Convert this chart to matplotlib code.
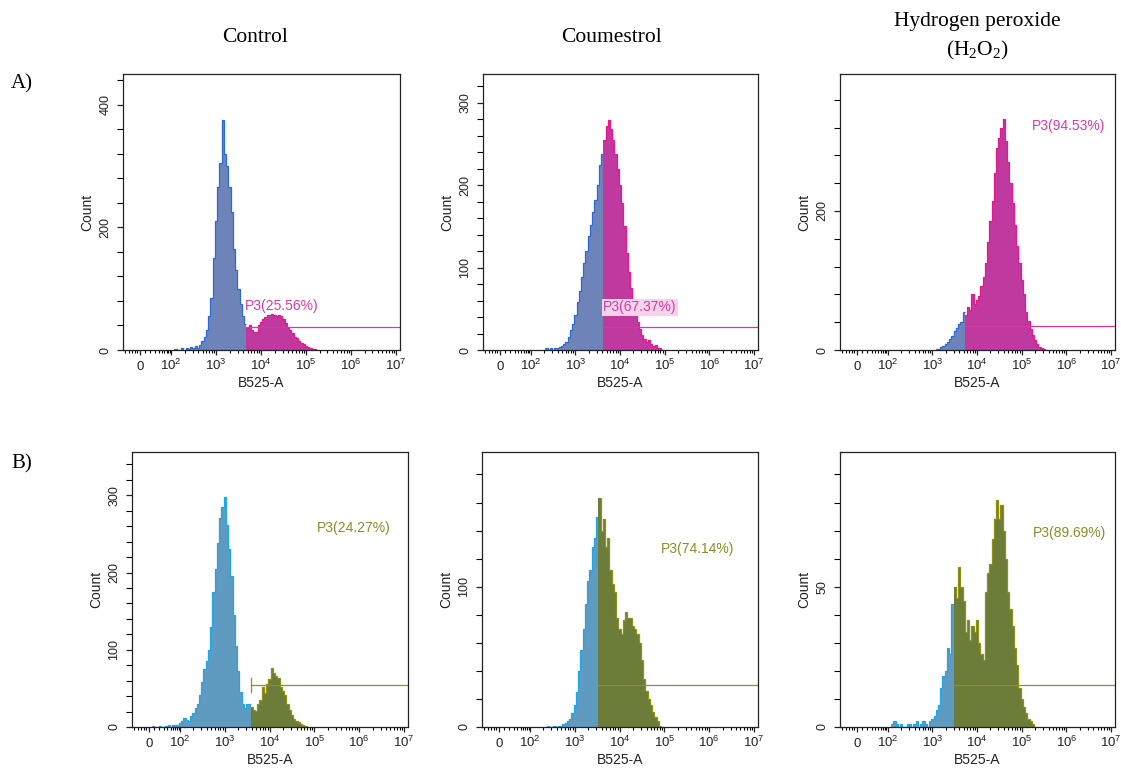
import numpy as np
import matplotlib
matplotlib.use("Agg")
import matplotlib.pyplot as plt
from matplotlib.ticker import FixedLocator

plt.rcParams['font.family'] = ['Liberation Sans', 'DejaVu Sans']
plt.rcParams['mathtext.default'] = 'regular'

# ---------------- data (x in log10 units of B525-A, bins of 0.05 decade) ----------------
BIN = 0.05

a_control_start = 2.10
a_control_counts = [2, 0, 0, 3, 0, 4, 2, 5, 3, 6, 4, 8, 14, 22, 32, 55, 85, 150, 210, 265,
                    305, 375, 320, 300, 265, 225, 165, 130, 100, 75, 55, 42, 36, 40, 33, 30,
                    29, 40, 45, 50, 54, 57, 57, 58, 57, 56, 57, 55, 50, 44, 38, 33, 28, 22,
                    19, 15, 12, 9, 6, 5, 3, 2, 1, 0]
a_control_gate = 3.64
a_control_level = 38
a_control_edge = 15

a_coum_start = 2.35
a_coum_counts = [2, 0, 2, 0, 3, 2, 4, 5, 7, 10, 16, 24, 32, 42, 58, 72, 88, 105, 120, 138,
                 152, 168, 182, 200, 225, 238, 255, 272, 279, 268, 255, 238, 220, 200, 178,
                 150, 118, 95, 75, 60, 45, 34, 26, 18, 13, 10, 12, 7, 5, 6, 3, 2, 0]
a_coum_gate = 3.61
a_coum_level = 28
a_coum_edge = 0

a_h2o2_start = 3.10
a_h2o2_counts = [1, 2, 4, 6, 9, 12, 16, 20, 28, 32, 38, 40, 55, 50, 62, 58, 80, 66, 72, 78,
                 92, 105, 125, 155, 185, 215, 255, 290, 305, 320, 332, 300, 270, 240, 212,
                 180, 150, 125, 100, 80, 55, 42, 30, 22, 14, 9, 5, 3, 1, 0]
a_h2o2_gate = 3.68
a_h2o2_level = 34
a_h2o2_edge = 0

b_control_start = 1.40
b_control_counts = [1, 0, 0, 1, 0, 0, 1, 2, 0, 2, 3, 2, 5, 8, 12, 9, 8, 14, 18, 24, 30, 42,
                    58, 75, 86, 100, 130, 175, 205, 238, 270, 285, 298, 262, 230, 195, 145,
                    105, 72, 45, 30, 25, 30, 30, 26, 22, 21, 30, 35, 52, 44, 56, 62, 76, 70,
                    66, 64, 52, 46, 42, 30, 22, 16, 11, 8, 6, 4, 2, 1, 0]
b_control_gate = 3.53
b_control_level = 54
b_control_edge = 52

b_coum_start = 2.40
b_coum_counts = [1, 0, 0, 1, 0, 1, 1, 2, 3, 4, 6, 10, 16, 25, 40, 55, 70, 88, 104, 112, 128,
                 135, 150, 163, 140, 148, 128, 135, 112, 102, 96, 78, 70, 66, 76, 82, 78, 78,
                 72, 70, 66, 60, 48, 34, 26, 20, 16, 11, 7, 4, 1, 0]
b_coum_gate = 3.49
b_coum_level = 30
b_coum_edge = 0

b_h2o2_start = 2.10
b_h2o2_counts = [1, 2, 1, 0, 1, 0, 0, 1, 1, 0, 1, 2, 0, 1, 2, 1, 0, 2, 3, 4, 6, 8, 14, 18,
                 20, 28, 26, 44, 50, 46, 57, 50, 45, 34, 38, 31, 36, 34, 38, 30, 26, 24, 48,
                 55, 58, 67, 74, 81, 74, 79, 70, 60, 48, 42, 36, 28, 22, 14, 10, 7, 5, 3, 2,
                 1, 0]
b_h2o2_gate = 3.45
b_h2o2_level = 15
b_h2o2_edge = 5

gate_labels = ["P3(25.56%)", "P3(67.37%)", "P3(94.53%)",
               "P3(24.27%)", "P3(74.14%)", "P3(89.69%)"]
label_pos = [(3.64, 72), (3.62, 52), (5.22, 322), (5.05, 257), (4.93, 127), (5.24, 69)]

col_titles = ["Control", "Coumestrol", "Hydrogen peroxide\n(H$_{2}$O$_{2}$)"]
row_titles = ["A)", "B)"]

x_tick_pos = [1.31, 2, 3, 4, 5, 6, 7]
x_tick_lab = ["0", "$10^{2}$", "$10^{3}$", "$10^{4}$", "$10^{5}$", "$10^{6}$", "$10^{7}$"]

ylims = [450, 335, 397, 356, 196, 98]
ymajor = [200, 100, 200, 100, 100, 50]
yminor = [40, 20, 40, 20, 20, 10]

# ---------------- style ----------------
XMIN, XMAX = 0.93, 7.09
A_UFILL, A_UEDGE = "#6e84b8", "#2a6ad4"
A_GFILL, A_GEDGE = "#c0399e", "#e8168a"
A_LINE, A_TEXT = "#d8379f", "#d13ca6"
B_UFILL, B_UEDGE = "#5f9ac0", "#1ea6e6"
B_GFILL, B_GEDGE = "#6b7d38", "#8f8f14"
B_LINE, B_TEXT = "#8c8c3c", "#8c8c24"
TXT = '#222222'

W, H = 1121, 772
fig = plt.figure(figsize=(W / 100, H / 100), dpi=100)

boxes = [(123, 74, 400, 350), (483, 74, 758, 350), (840, 74, 1115, 350),
         (132, 452, 408, 727), (482, 452, 758, 727), (840, 452, 1115, 727)]

panels = [
    (a_control_start, a_control_counts, a_control_gate, a_control_level, a_control_edge),
    (a_coum_start, a_coum_counts, a_coum_gate, a_coum_level, a_coum_edge),
    (a_h2o2_start, a_h2o2_counts, a_h2o2_gate, a_h2o2_level, a_h2o2_edge),
    (b_control_start, b_control_counts, b_control_gate, b_control_level, b_control_edge),
    (b_coum_start, b_coum_counts, b_coum_gate, b_coum_level, b_coum_edge),
    (b_h2o2_start, b_h2o2_counts, b_h2o2_gate, b_h2o2_level, b_h2o2_edge),
]

x_minor = [0.98, 1.06, 1.13, 1.19, 1.25, 1.42, 1.54, 1.64, 1.72, 1.79, 1.85, 1.90, 1.94, 1.97]
for d in range(2, 7):
    for k in range(2, 10):
        x_minor.append(d + np.log10(k))

for i, (box, pdata) in enumerate(zip(boxes, panels)):
    l, t, r, b = box
    ax = fig.add_axes([l / W, 1 - b / H, (r - l) / W, (b - t) / H])
    start, counts, gate, level, edge = pdata
    counts = np.asarray(counts, float)
    edges = start - BIN / 2 + BIN * np.arange(len(counts) + 1)
    k = int(np.searchsorted(edges, gate))
    if i < 3:
        uf, ue, gf, ge, gl, gt = A_UFILL, A_UEDGE, A_GFILL, A_GEDGE, A_LINE, A_TEXT
    else:
        uf, ue, gf, ge, gl, gt = B_UFILL, B_UEDGE, B_GFILL, B_GEDGE, B_LINE, B_TEXT
    ax.stairs(counts[:k], edges[:k + 1], fill=True, color=uf, lw=0)
    ax.stairs(counts[:k], edges[:k + 1], baseline=None, color=ue, lw=0.9)
    ax.stairs(counts[k:], edges[k:], fill=True, color=gf, lw=0)
    ax.stairs(counts[k:], edges[k:], baseline=None, color=ge, lw=0.9)
    if edge > 0:
        ax.bar([XMIN + 0.012], [edge], width=0.022, color=ue, linewidth=0)
    ax.plot([edges[k], XMAX], [level, level], color=gl, lw=0.9)
    if i == 3:
        ax.plot([edges[k], edges[k]], [level - 9, level + 9], color=gl, lw=0.9)
    lx, ly = label_pos[i]
    txt_kw = dict(color=gt, fontsize=10, ha='left', va='center')
    if i == 1:
        txt_kw['bbox'] = dict(facecolor='#f6d3ea', edgecolor='none', pad=1.0)
    ax.text(lx, ly, gate_labels[i], **txt_kw)

    ax.set_xlim(XMIN, XMAX)
    ax.set_ylim(0, ylims[i])
    ax.xaxis.set_major_locator(FixedLocator(x_tick_pos))
    ax.set_xticklabels(x_tick_lab, va='baseline')
    ax.xaxis.set_minor_locator(FixedLocator(x_minor))
    yt = np.arange(0, ylims[i], ymajor[i])
    ax.yaxis.set_major_locator(FixedLocator(yt))
    ax.set_yticklabels([str(int(v)) for v in yt], rotation=90, va='center')
    ax.yaxis.set_minor_locator(FixedLocator(np.arange(0, ylims[i], yminor[i])))
    ax.tick_params(axis='x', which='major', length=3.6, width=0.9, pad=10.5,
                   labelsize=9.5, colors=TXT)
    ax.tick_params(axis='x', which='minor', length=2.2, width=0.8)
    ax.tick_params(axis='y', which='major', length=4.3, width=0.9, pad=4,
                   labelsize=9, colors=TXT)
    ax.tick_params(axis='y', which='minor', length=4.3, width=0.8)
    for s in ax.spines.values():
        s.set_linewidth(0.9)
        s.set_color(TXT)
    ax.set_xlabel("B525-A", fontsize=10, labelpad=2.5, color=TXT)
    ax.set_ylabel("Count", fontsize=10, labelpad=4, color=TXT)

serif = ['Liberation Serif', 'DejaVu Serif']
fig.text(255 / W, 1 - 38 / H, col_titles[0], family=serif, fontsize=15.5,
         ha='center', va='center')
fig.text(612 / W, 1 - 38 / H, col_titles[1], family=serif, fontsize=15.5,
         ha='center', va='center')
fig.text(977 / W, 1 - 37 / H, col_titles[2], family=serif, fontsize=15.5,
         ha='center', va='center', linespacing=1.45)
fig.text(22 / W, 1 - 84 / H, row_titles[0], family=serif, fontsize=15,
         ha='center', va='center')
fig.text(22 / W, 1 - 464 / H, row_titles[1], family=serif, fontsize=15,
         ha='center', va='center')

fig.savefig("out.png", dpi=100)
